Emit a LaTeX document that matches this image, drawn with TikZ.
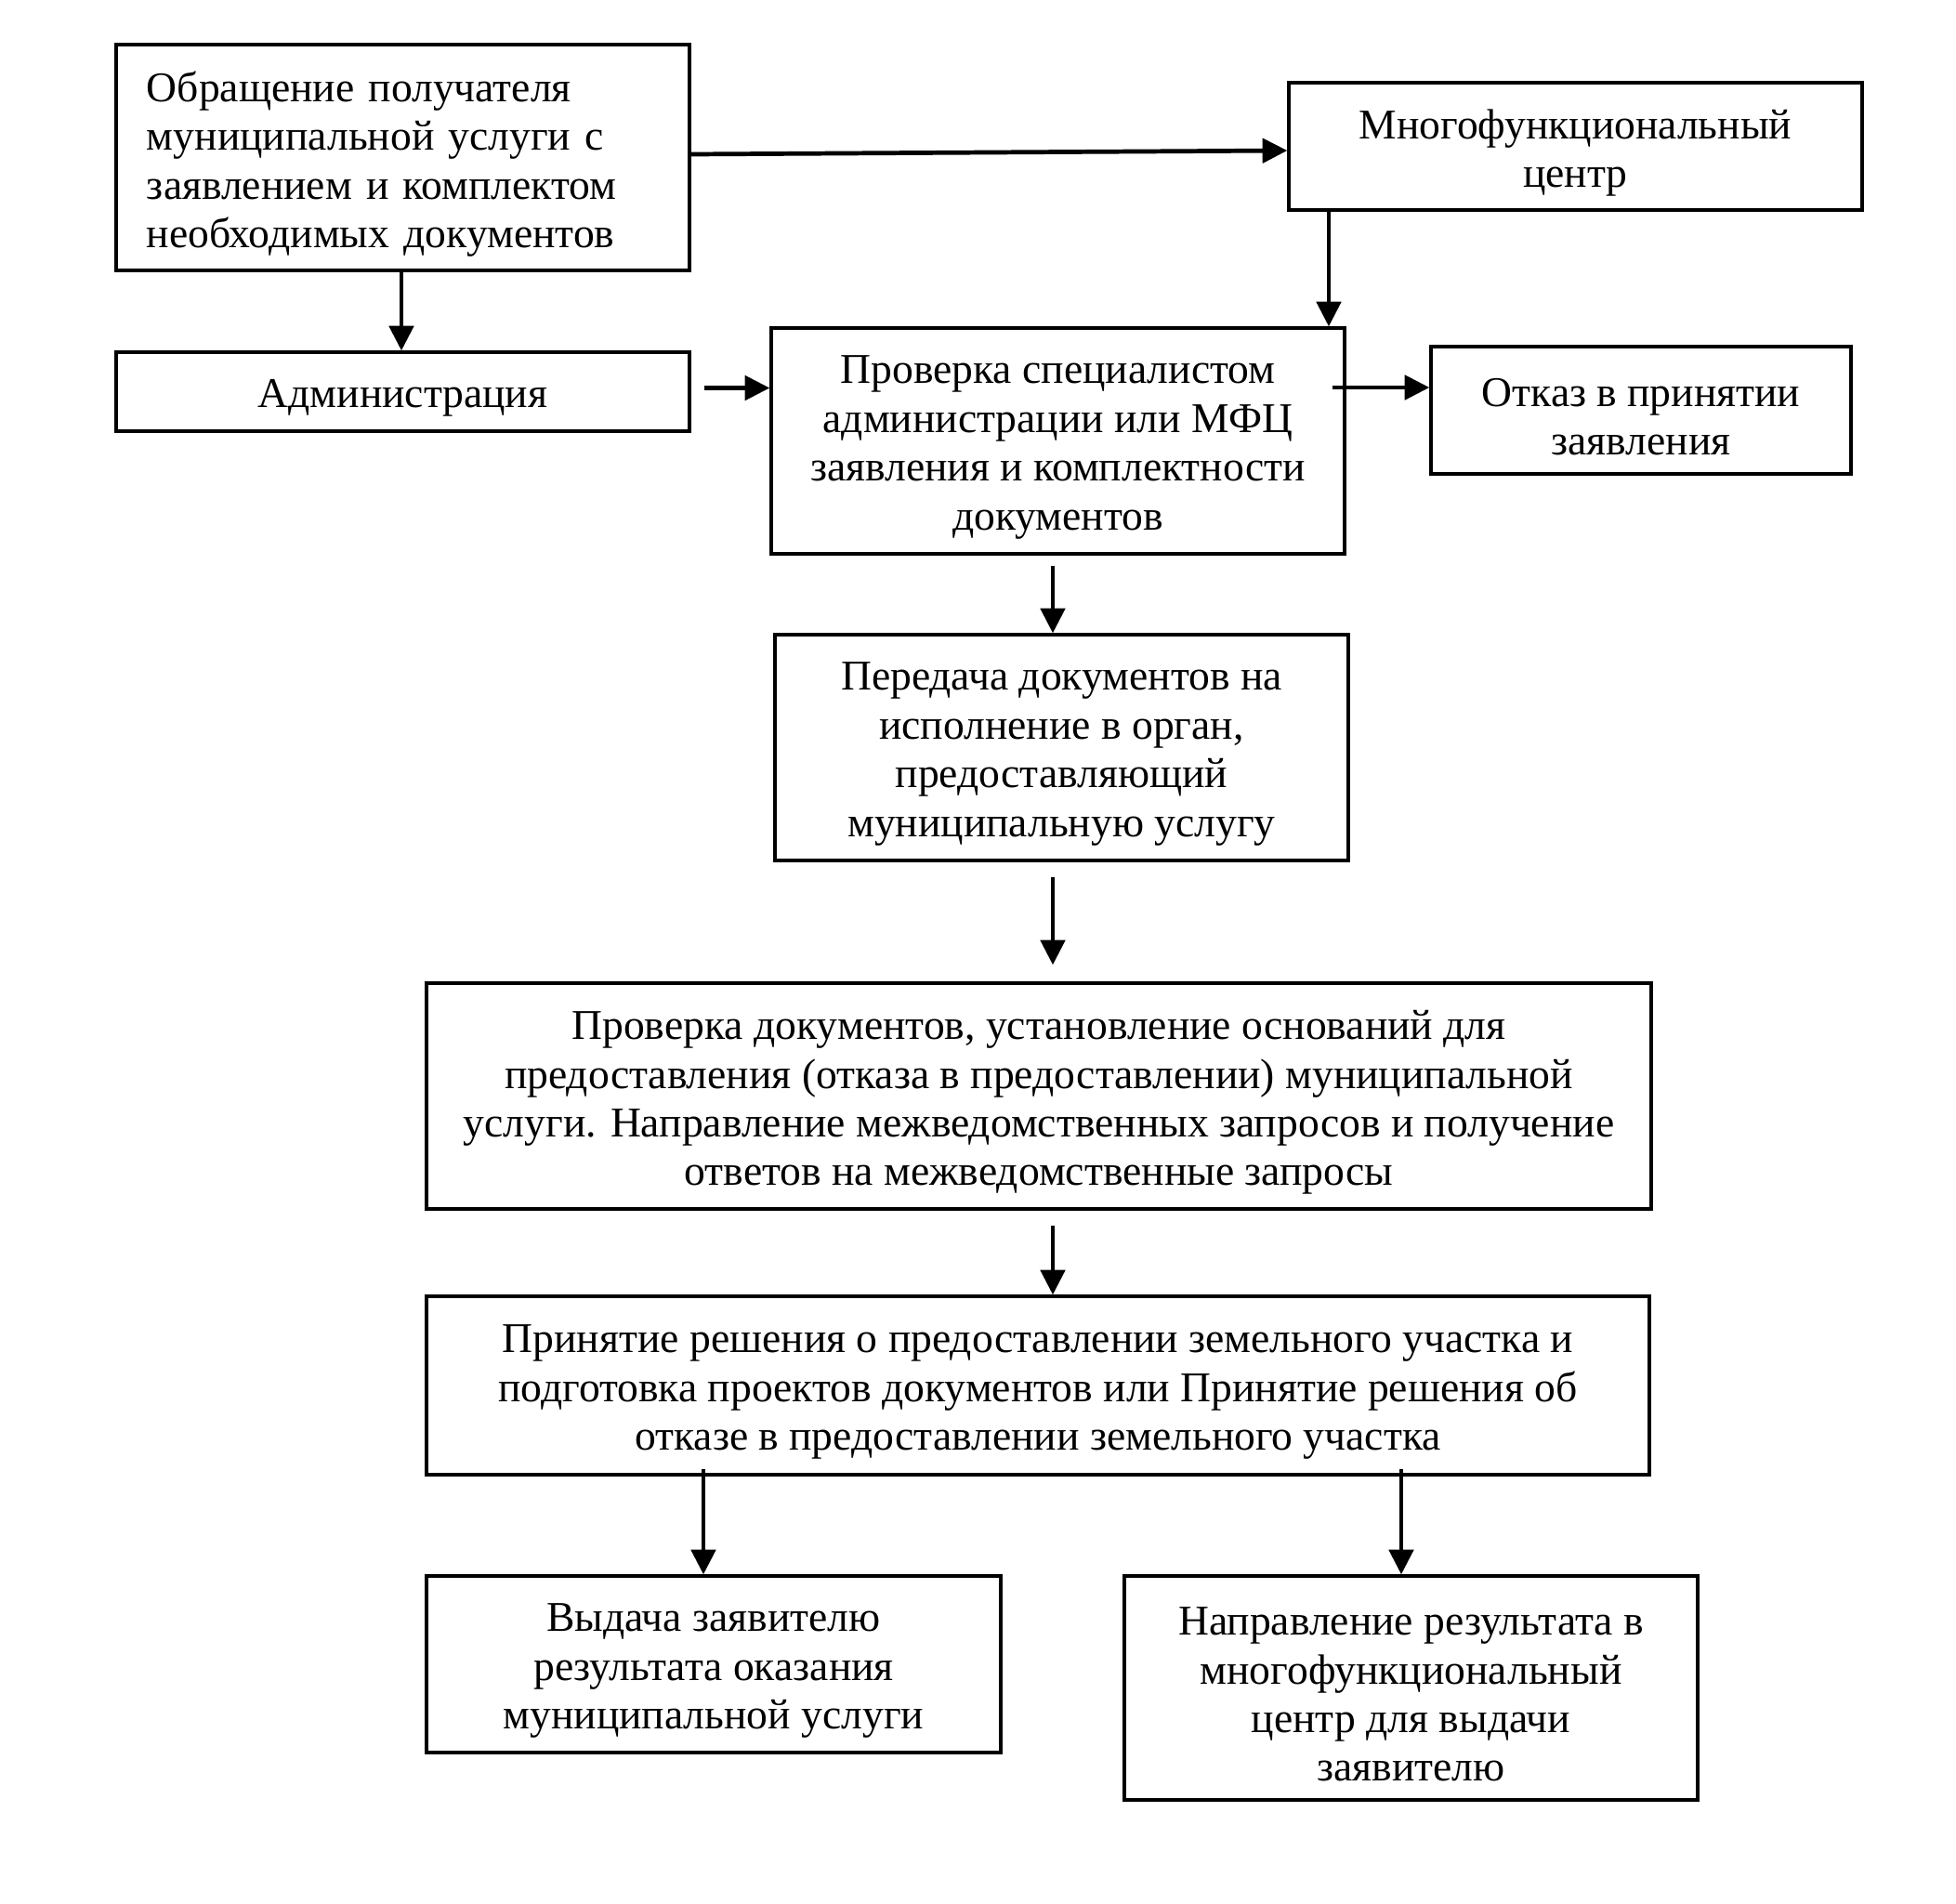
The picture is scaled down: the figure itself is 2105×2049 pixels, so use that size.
\documentclass[tikz,border=0pt]{standalone}
\usepackage{fontspec}
\setmainfont{Liberation Serif}
\usetikzlibrary{arrows.meta,calc}
\begin{document}
\begin{tikzpicture}[x=0.307pt,y=-0.307pt,
  bx/.style 2 args={draw,line width=1pt,minimum width=#1*0.307pt,minimum height=#2*0.307pt,inner sep=0pt},
  tx/.style={inner sep=0pt,align=center,font=\fontsize{14}{16.1}\selectfont},
  arr/.style={line width=1.45pt,-{Triangle[length=8.2pt,width=8pt]}}]
\useasboundingbox (0,0) rectangle (2105,2049);
\node[bx={617}{243}] (b1) at (433.5,169.5) {};
\node[bx={617}{137}] (b2) at (1695.5,157.5) {};
\node[bx={617}{85}] (b3) at (433.5,421.5) {};
\node[bx={617}{243}] (b4) at (1138.5,474.5) {};
\node[bx={452}{137}] (b5) at (1766,441.5) {};
\node[bx={617}{243}] (b6) at (1142.5,804.5) {};
\node[bx={1318}{243}] (b7) at (1118,1179.5) {};
\node[bx={1316}{192}] (b8) at (1117,1491) {};
\node[bx={618}{190}] (b9) at (768,1791) {};
\node[bx={617}{241}] (b10) at (1518.5,1816.5) {};
\node[tx,text width=551*0.307pt,align=left] (t1) at ($(b1.center)+(0,7)$) {Обращение получателя\\муниципальной услуги с\\заявлением и комплектом\\необходимых документов};
\node[tx] (t2) at ($(b2.center)+(0,7)$) {Многофункциональный\\центр};
\node[tx] (t3) at ($(b3.center)+(0,7)$) {Администрация};
\node[tx] (t4) at ($(b4.center)+(0,7)$) {Проверка специалистом\\администрации или МФЦ\\заявления и комплектности\\документов};
\node[tx] (t5) at ($(b5.center)+(0,7)$) {Отказ в принятии\\заявления};
\node[tx] (t6) at ($(b6.center)+(0,7)$) {Передача документов на\\исполнение в орган,\\предоставляющий\\муниципальную услугу};
\node[tx] (t7) at ($(b7.center)+(0,7)$) {Проверка документов, установление оснований для\\предоставления (отказа в предоставлении) муниципальной\\услуги. Направление межведомственных запросов и получение\\ответов на межведомственные запросы};
\node[tx] (t8) at ($(b8.center)+(0,7)$) {Принятие решения о предоставлении земельного участка и\\подготовка проектов документов или Принятие решения об\\отказе в предоставлении земельного участка};
\node[tx] (t9) at ($(b9.center)+(0,7)$) {Выдача заявителю\\результата оказания\\муниципальной услуги};
\node[tx] (t10) at ($(b10.center)+(0,7)$) {Направление результата в\\многофункциональный\\центр для выдачи\\заявителю};
\draw[arr] (b1.east |- 0,166) -- (b2.west |- 0,162);
\draw[arr] (b1.south -| 432,0) -- (b3.north -| 432,0);
\draw[arr] (b2.south -| 1430,0) -- (b4.north -| 1430,0);
\draw[arr] ($(b3.east |- 0,417.5)+(14,0)$) -- (b4.west |- 0,417.5);
\draw[arr] ($(b4.east |- 0,417)+(-15,0)$) -- (b5.west |- 0,417);
\draw[arr] ($(b4.south -| 1133,0)+(0,11)$) -- (b6.north -| 1133,0);
\draw[arr] ($(b6.south -| 1133,0)+(0,16)$) -- ($(b7.north -| 1133,0)+(0,-18)$);
\draw[arr] ($(b7.south -| 1133,0)+(0,16)$) -- (b8.north -| 1133,0);
\draw[arr] ($(b8.south -| 757,0)+(0,-8)$) -- (b9.north -| 757,0);
\draw[arr] ($(b8.south -| 1508,0)+(0,-8)$) -- (b10.north -| 1508,0);
\end{tikzpicture}
\end{document}
